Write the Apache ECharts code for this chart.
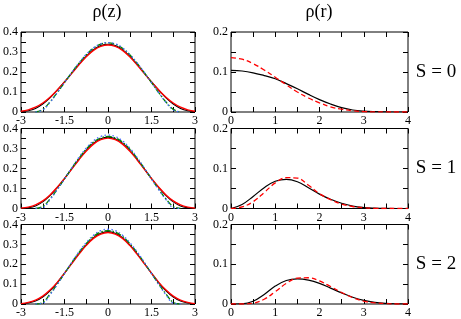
<!DOCTYPE html>
<html><head><meta charset="utf-8">
<script src="https://cdn.jsdelivr.net/npm/echarts@6/dist/echarts.min.js"></script>
<style>html,body{margin:0;padding:0;background:#fff}#c{width:461px;height:319px}</style>
</head><body><div id="c"></div>
<script>
// ---------- data ----------
const columnTitles = ['ρ(z)', 'ρ(r)'];
const rowLabels = ['S = 0', 'S = 1', 'S = 2'];

const zValues = [-3,-2.75,-2.5,-2.25,-2,-1.75,-1.5,-1.25,-1,-0.75,-0.5,-0.25,0,0.25,0.5,0.75,1,1.25,1.5,1.75,2,2.25,2.5,2.75,3];
const rValues = [0,0.25,0.5,0.75,1,1.25,1.5,1.75,2,2.25,2.5,2.75,3,3.25,3.5,3.75,4];

const zTickValues = [-3,-1.5,0,1.5,3];
const zTickLabels = ['-3','-1.5','0','1.5','3'];
const rTickValues = [0,1,2,3,4];
const rTickLabels = ['0','1','2','3','4'];
const rhoZTickValues = [0,0.1,0.2,0.3,0.4];
const rhoZTickLabels = ['0','0.1','0.2','0.3','0.4'];
const rhoRTickValues = [0,0.1,0.2];
const rhoRTickLabels = ['0','0.1','0.2'];

// rho(z), S = 0
const zS0Black = [0.001,0.006,0.018,0.040,0.071,0.109,0.151,0.195,0.239,0.279,0.312,0.332,0.339,0.332,0.312,0.279,0.239,0.195,0.151,0.109,0.071,0.040,0.018,0.006,0.001];
const zS0Red   = [0.004,0.011,0.024,0.045,0.074,0.110,0.150,0.193,0.236,0.276,0.308,0.328,0.335,0.328,0.308,0.276,0.236,0.193,0.150,0.110,0.074,0.045,0.024,0.011,0.004];
const zS0Green = [null,null,0,0.013,0.050,0.097,0.147,0.197,0.244,0.286,0.319,0.339,0.346,0.339,0.319,0.286,0.244,0.197,0.147,0.097,0.050,0.013,0,null,null];
const zS0Blue  = [null,null,0,0.010,0.048,0.096,0.147,0.198,0.246,0.288,0.321,0.341,0.347,0.341,0.321,0.288,0.246,0.198,0.147,0.096,0.048,0.010,0,null,null];
// rho(z), S = 1
const zS1Black = [0.001,0.004,0.013,0.033,0.064,0.104,0.150,0.199,0.247,0.291,0.327,0.349,0.357,0.349,0.327,0.291,0.247,0.199,0.150,0.104,0.064,0.033,0.013,0.004,0.001];
const zS1Red   = [0.002,0.007,0.018,0.038,0.068,0.106,0.150,0.197,0.244,0.287,0.322,0.344,0.352,0.344,0.322,0.287,0.244,0.197,0.150,0.106,0.068,0.038,0.018,0.007,0.002];
const zS1Green = [null,null,0,0.010,0.048,0.096,0.148,0.201,0.252,0.297,0.332,0.353,0.360,0.353,0.332,0.297,0.252,0.201,0.148,0.096,0.048,0.010,0,null,null];
const zS1Blue  = [null,null,0,0.004,0.044,0.094,0.148,0.203,0.256,0.302,0.338,0.360,0.367,0.360,0.338,0.302,0.256,0.203,0.148,0.094,0.044,0.004,0,null,null];
// rho(z), S = 2
const zS2Black = [0.001,0.005,0.015,0.035,0.066,0.107,0.155,0.205,0.254,0.298,0.334,0.356,0.364,0.356,0.334,0.298,0.254,0.205,0.155,0.107,0.066,0.035,0.015,0.005,0.001];
const zS2Red   = [0.002,0.008,0.020,0.040,0.070,0.109,0.155,0.203,0.251,0.295,0.330,0.352,0.360,0.352,0.330,0.295,0.251,0.203,0.155,0.109,0.070,0.040,0.020,0.008,0.002];
const zS2Green = [null,null,0,0.008,0.050,0.100,0.154,0.208,0.259,0.304,0.340,0.362,0.369,0.362,0.340,0.304,0.259,0.208,0.154,0.100,0.050,0.008,0,null,null];
const zS2Blue  = [null,null,0,0.004,0.046,0.098,0.154,0.210,0.263,0.309,0.346,0.369,0.376,0.369,0.346,0.309,0.263,0.210,0.154,0.098,0.046,0.004,0,null,null];

// rho(r)
const rS0Black = [0.104,0.1025,0.098,0.091,0.083,0.071,0.058,0.044,0.031,0.020,0.011,0.005,0.002,0.0007,0.0002,0,0];
const rS0Red   = [0.136,0.132,0.121,0.105,0.087,0.068,0.050,0.035,0.023,0.013,0.007,0.003,0.001,0.0004,0.0001,0,0];
const rS1Black = [0,0.010,0.030,0.052,0.068,0.073,0.067,0.052,0.036,0.023,0.013,0.006,0.0025,0.001,0.0003,0,0];
const rS1Red   = [0,0.004,0.017,0.040,0.064,0.077,0.076,0.058,0.037,0.022,0.011,0.005,0.002,0.0005,0,0,0];
const rS2Black = [0,0.0005,0.007,0.024,0.045,0.059,0.063,0.060,0.052,0.040,0.028,0.017,0.009,0.004,0.0015,0.0005,0];
const rS2Red   = [0,0,0.002,0.012,0.031,0.052,0.065,0.066,0.058,0.044,0.029,0.016,0.007,0.003,0.001,0,0];

// ---------- build ----------
const FONT = '"Liberation Serif", "DejaVu Serif", serif';
const zRows = [
  {black: zS0Black, red: zS0Red, green: zS0Green, blue: zS0Blue},
  {black: zS1Black, red: zS1Red, green: zS1Green, blue: zS1Blue},
  {black: zS2Black, red: zS2Red, green: zS2Green, blue: zS2Blue}
];
const rRows = [
  {black: rS0Black, red: rS0Red},
  {black: rS1Black, red: rS1Red},
  {black: rS2Black, red: rS2Red}
];
const rowTops = [32, 128.5, 224.5];
const rowH = 80;
const colLeft = [20, 231];
const colW = [175, 177];

function labelFmt(vals, labels) {
  return function (v) {
    const i = vals.findIndex(t => Math.abs(t - v) < 1e-6);
    return i >= 0 ? labels[i] : '';
  };
}
function pairs(xs, ys) { return xs.map((x, i) => [x, ys[i]]); }

const grid = [], xAxis = [], yAxis = [], series = [];
const tickStyle = {show: true, inside: true, length: 5, lineStyle: {color: '#000', width: 1}};
const labelStyle = {fontFamily: FONT, fontSize: 12, color: '#000'};
const noLine = {show: false, onZero: false};

for (let row = 0; row < 3; row++) {
  for (let col = 0; col < 2; col++) {
    const gi = grid.length;
    grid.push({left: colLeft[col], top: rowTops[row], width: colW[col], height: rowH,
      show: true, borderColor: '#000', borderWidth: 1, backgroundColor: 'transparent'});
    const xCfg = col === 0
      ? {min: -3, max: 3, interval: 0.75, fmt: labelFmt(zTickValues, zTickLabels)}
      : {min: 0, max: 4, interval: 0.5, fmt: labelFmt(rTickValues, rTickLabels)};
    const yCfg = col === 0
      ? {min: 0, max: 0.4, interval: 0.05, fmt: labelFmt(rhoZTickValues, rhoZTickLabels)}
      : {min: 0, max: 0.2, interval: 0.05, fmt: labelFmt(rhoRTickValues, rhoRTickLabels)};
    const xi = xAxis.length, yi = yAxis.length;
    // main axes
    xAxis.push({type: 'value', gridIndex: gi, position: 'bottom', min: xCfg.min, max: xCfg.max, interval: xCfg.interval,
      axisLine: noLine, splitLine: {show: false}, axisTick: tickStyle,
      axisLabel: Object.assign({formatter: xCfg.fmt, margin: 3, showMinLabel: true, showMaxLabel: true, hideOverlap: false}, labelStyle)});
    yAxis.push({type: 'value', gridIndex: gi, position: 'left', min: yCfg.min, max: yCfg.max, interval: yCfg.interval,
      axisLine: noLine, splitLine: {show: false}, axisTick: tickStyle,
      axisLabel: Object.assign({formatter: yCfg.fmt, margin: 3, showMinLabel: true, showMaxLabel: true, hideOverlap: false}, labelStyle)});
    // mirror axes (ticks only)
    xAxis.push({type: 'value', gridIndex: gi, position: 'top', min: xCfg.min, max: xCfg.max, interval: xCfg.interval,
      axisLine: noLine, splitLine: {show: false}, axisTick: tickStyle, axisLabel: {show: false}});
    yAxis.push({type: 'value', gridIndex: gi, position: 'right', min: yCfg.min, max: yCfg.max, interval: yCfg.interval,
      axisLine: noLine, splitLine: {show: false}, axisTick: tickStyle, axisLabel: {show: false}});

    const base = {type: 'line', xAxisIndex: xi, yAxisIndex: yi, showSymbol: false, symbol: 'none',
      smooth: 0.4, clip: true, silent: true, connectNulls: false};
    if (col === 0) {
      const d = zRows[row];
      series.push(Object.assign({}, base, {data: pairs(zValues, d.black), lineStyle: {color: '#000', width: 1.1}, z: 2}));
      series.push(Object.assign({}, base, {data: pairs(zValues, d.red), lineStyle: {color: '#ff0000', width: 1.4}, z: 3}));
      series.push(Object.assign({}, base, {data: pairs(zValues, d.green), lineStyle: {color: '#008000', width: 1.3, type: [6, 2, 1.5, 2]}, z: 4}));
      series.push(Object.assign({}, base, {data: pairs(zValues, d.blue), lineStyle: {color: '#4466ff', width: 1.3, type: [1.5, 2.5]}, z: 5}));
    } else {
      const d = rRows[row];
      series.push(Object.assign({}, base, {data: pairs(rValues, d.black), lineStyle: {color: '#000', width: 1.2}, z: 2}));
      series.push(Object.assign({}, base, {data: pairs(rValues, d.red), lineStyle: {color: '#ff0000', width: 1.3, type: [5, 3]}, z: 3}));
    }
  }
}

const graphic = [];
graphic.push({type: 'text', x: 107, y: 12, style: {text: columnTitles[0], font: '18px ' + FONT, fill: '#000', textAlign: 'center', textVerticalAlign: 'middle'}});
graphic.push({type: 'text', x: 319, y: 12, style: {text: columnTitles[1], font: '18px ' + FONT, fill: '#000', textAlign: 'center', textVerticalAlign: 'middle'}});
rowLabels.forEach((t, i) => {
  graphic.push({type: 'text', x: 436, y: rowTops[i] + rowH / 2, style: {text: t, font: '19px ' + FONT, fill: '#000', textAlign: 'center', textVerticalAlign: 'middle'}});
});

const chart = echarts.init(document.getElementById('c'), null, {renderer: 'canvas'});
chart.setOption({animation: false, backgroundColor: '#fff', grid, xAxis, yAxis, series, graphic});
</script></body></html>
